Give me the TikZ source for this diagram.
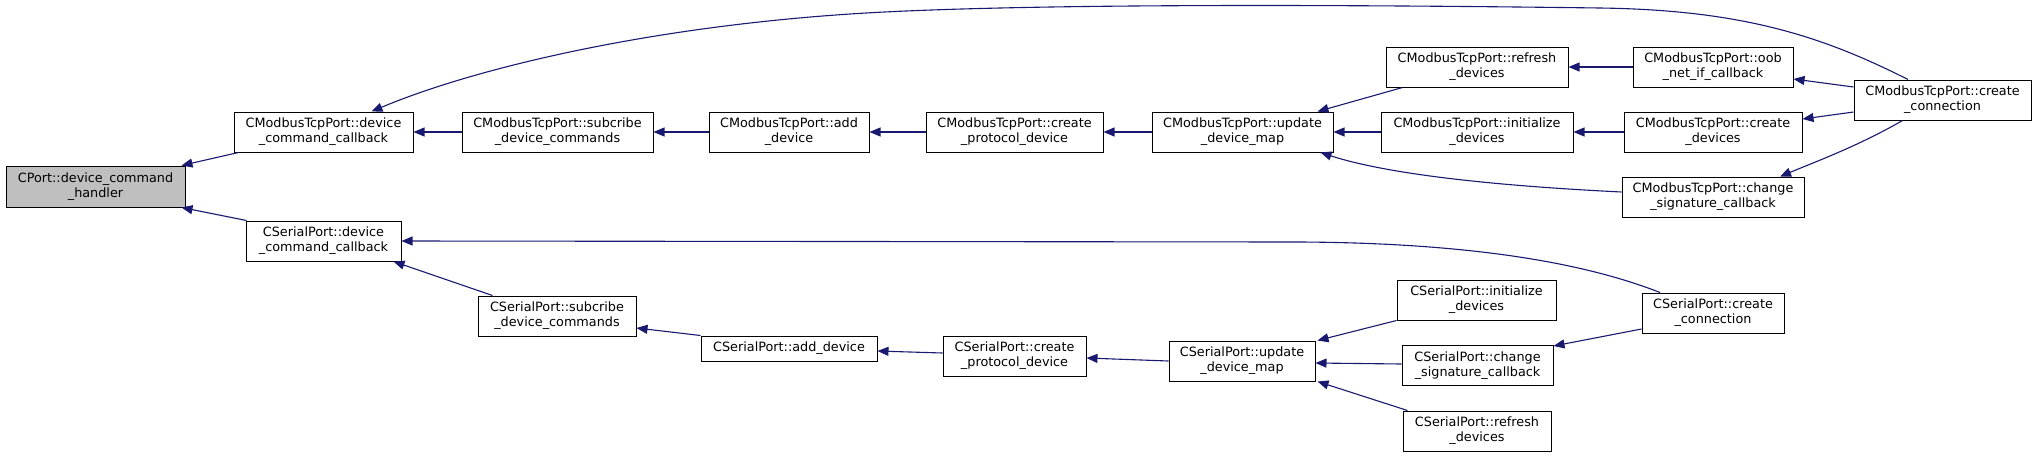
\documentclass[tikz,border=0pt]{standalone}
\usepackage{fontspec}
\setmainfont{DejaVu Sans}
\usetikzlibrary{arrows.meta}
\definecolor{edgecol}{HTML}{191970}
\definecolor{grayfill}{HTML}{BFBFBF}
\begin{document}
\begin{tikzpicture}[x=1pt,y=-1pt,
  fn/.style={draw=black, line width=1pt, fill=white, inner sep=0pt, align=center,
    minimum height=40pt, font=\fontsize{12.8}{15}\selectfont},
  edge/.style={draw=edgecol, line width=1.1pt, -{Triangle[length=11pt,width=9pt]}}]
\useasboundingbox (0,0) rectangle (2037,456);
% nodes
\node[fn, fill=grayfill, minimum width=179pt, minimum height=41pt] (cport) at (95.5,186.5) {CPort::device\_command\\\_handler};
\node[fn, minimum width=179pt] (mdcc) at (323.5,132) {CModbusTcpPort::device\\\_command\_callback};
\node[fn, minimum width=191pt] (msub) at (557.5,132) {CModbusTcpPort::subcribe\\\_device\_commands};
\node[fn, minimum width=160pt] (madd) at (789,132) {CModbusTcpPort::add\\\_device};
\node[fn, minimum width=177pt] (mcpd) at (1014.5,132) {CModbusTcpPort::create\\\_protocol\_device};
\node[fn, minimum width=181pt] (mupd) at (1242.5,132) {CModbusTcpPort::update\\\_device\_map};
\node[fn, minimum width=182pt] (mref) at (1477,67) {CModbusTcpPort::refresh\\\_devices};
\node[fn, minimum width=160pt] (moob) at (1713,67) {CModbusTcpPort::oob\\\_net\_if\_callback};
\node[fn, minimum width=192pt] (mini) at (1477,132) {CModbusTcpPort::initialize\\\_devices};
\node[fn, minimum width=178pt] (mcdv) at (1713,132) {CModbusTcpPort::create\\\_devices};
\node[fn, minimum width=182pt] (mchg) at (1713,197) {CModbusTcpPort::change\\\_signature\_callback};
\node[fn, minimum width=177pt] (mcon) at (1942.5,100) {CModbusTcpPort::create\\\_connection};
\node[fn, minimum width=155pt] (sdcc) at (323.5,241) {CSerialPort::device\\\_command\_callback};
\node[fn, minimum width=158pt] (ssub) at (557,316) {CSerialPort::subcribe\\\_device\_commands};
\node[fn, minimum width=176pt, minimum height=25pt] (sadd) at (789,348.5) {CSerialPort::add\_device};
\node[fn, minimum width=143pt] (scpd) at (1014.5,356) {CSerialPort::create\\\_protocol\_device};
\node[fn, minimum width=146pt] (supd) at (1242,361) {CSerialPort::update\\\_device\_map};
\node[fn, minimum width=159pt] (sini) at (1476.5,300) {CSerialPort::initialize\\\_devices};
\node[fn, minimum width=151pt] (schg) at (1477.5,365.5) {CSerialPort::change\\\_signature\_callback};
\node[fn, minimum width=148pt] (sref) at (1477,431) {CSerialPort::refresh\\\_devices};
\node[fn, minimum width=142pt] (scon) at (1713,313) {CSerialPort::create\\\_connection};
% edges (arrow at the caller side)
\draw[edge] ([xshift=5pt]mdcc.south west) -- ([xshift=-4pt]cport.north east);
\draw[edge] ([xshift=1pt]sdcc.north west) -- ([xshift=-4pt]cport.south east);
\draw[edge] (msub.west) -- (mdcc.east);
\draw[edge] (madd.west) -- (msub.east);
\draw[edge] (mcpd.west) -- (madd.east);
\draw[edge] (mupd.west) -- (mcpd.east);
\draw[edge] ([xshift=17pt]mref.south west) -- ([xshift=-16pt]mupd.north east);
\draw[edge] (mini.west) -- (mupd.east);
\draw[edge] ([yshift=5pt]mchg.west) .. controls (1500,186) and (1390,175) .. ([xshift=-13pt]mupd.south east);
\draw[edge] (moob.west) -- (mref.east);
\draw[edge] (mcdv.west) -- (mini.east);
\draw[edge] ([yshift=13pt]mcon.west) -- ([yshift=-12pt]moob.east);
\draw[edge] ([yshift=-12pt]mcon.west) -- ([yshift=13pt]mcdv.east);
\draw[edge] ([xshift=-40pt]mcon.south) .. controls (1860,145) and (1820,160) .. ([xshift=67pt]mchg.north);
\draw[edge] ([xshift=-34.5pt]mcon.north) .. controls (1820,35) and (1740,10) .. (1600,8)
   .. controls (1300,4) and (1000,4) .. (850,14)
   .. controls (640,28) and (470,70) .. ([xshift=48pt]mdcc.north);
\draw[edge] ([xshift=15pt]ssub.north west) -- ([xshift=-8pt]sdcc.south east);
\draw[edge] ([xshift=-53pt]scon.north) .. controls (1590,265) and (1480,243) .. (1300,242) -- (sdcc.east);
\draw[edge] (sadd.north west) -- ([yshift=-12pt]ssub.east);
\draw[edge] ([yshift=3pt]scpd.west) -- ([yshift=-2.5pt]sadd.east);
\draw[edge] (supd.west) -- ([yshift=-2pt]scpd.east);
\draw[edge] (sini.south west) -- ([xshift=2pt]supd.north east);
\draw[edge] ([yshift=1.5pt]schg.west) -- ([yshift=-2pt]supd.east);
\draw[edge] ([xshift=5pt]sref.north west) -- ([xshift=2pt]supd.south east);
\draw[edge] ([yshift=-16pt]scon.west) -- ([yshift=-1pt]schg.north east);
\end{tikzpicture}
\end{document}
